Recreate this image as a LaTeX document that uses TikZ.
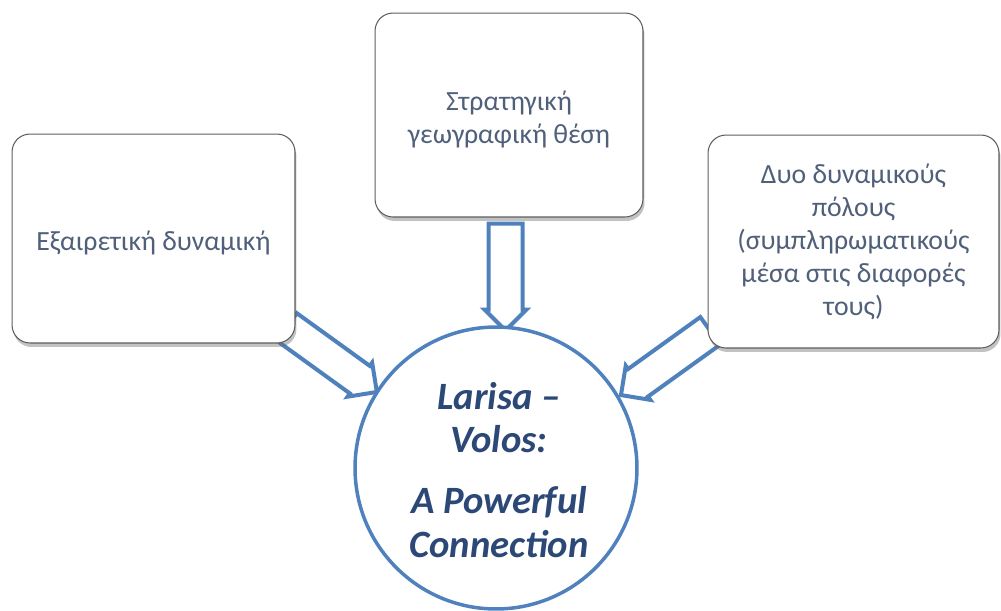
\documentclass[tikz,border=0pt]{standalone}
\usepackage{fontspec}
\setmainfont{Carlito}
\usetikzlibrary{shapes.arrows, shadows, backgrounds}
\definecolor{arrowblue}{RGB}{79,129,189}
\definecolor{hubnavy}{RGB}{44,72,118}
\definecolor{boxtext}{RGB}{80,96,122}
\definecolor{boxedge}{RGB}{95,95,95}

\begin{document}
\begin{tikzpicture}[x=0.02cm, y=-0.02cm,
  factorbox/.style={draw=boxedge, line width=0.6pt, fill=white, rounded corners=0.36cm,
    inner sep=0pt, align=center, text=boxtext, font=\fontsize{15.8}{18.8}\selectfont,
    drop shadow={shadow xshift=0.03cm, shadow yshift=-0.08cm, opacity=0.4, fill=black!60}},
  blockarrow/.style={single arrow, draw=arrowblue, line width=0.08cm, fill=white,
    inner xsep=0pt, inner ysep=0.3cm, minimum width=0pt,
    single arrow head extend=0.08cm, single arrow tip angle=90,
    sloped, allow upside down}
]
  \useasboundingbox (0,0) rectangle (1001,610);
  % Three factors
  \node[factorbox, minimum width=5.66cm, minimum height=4.18cm] (leftbox) at (153.5,238.5)
    {\\[-0.1cm]Εξαιρετική δυναμική};
  \node[factorbox, minimum width=5.36cm, minimum height=4.08cm] (midbox) at (509,115)
    {\\[-0.1cm]Στρατηγική\\ γεωγραφική θέση};
  \node[factorbox, minimum width=5.82cm, minimum height=4.26cm] (rightbox) at (853.5,241.5)
    {Δυο δυναμικούς\\ πόλους\\ (συμπληρωματικούς\\ μέσα στις διαφορές\\ τους)};
  % Centre
  \node[circle, draw=arrowblue, line width=0.07cm, fill=white, minimum size=5.64cm,
    inner sep=0pt] (hub) at (496,468) {};
  \node[text=hubnavy, font=\fontsize{22}{25}\selectfont\bfseries\itshape, align=center]
    (hubtext) at (499,470) {Larisa –\\ Volos:\\[0.34cm] A Powerful\\ Connection};
  % Block arrows behind the boxes
  \coordinate (lefttail) at (280,322);
  \coordinate (lefttip) at (370,387);
  \coordinate (midtail) at (505.5,215);
  \coordinate (midtip) at (505.5,322);
  \coordinate (righttail) at (717,326);
  \coordinate (righttip) at (628,390);
  \begin{scope}[on background layer]
    \path (lefttail) -- (lefttip) node[blockarrow, midway, minimum height=2.22cm] (leftarrow) {};
    \path (midtail) -- (midtip) node[blockarrow, midway, minimum height=2.14cm] (midarrow) {};
    \path (righttail) -- (righttip) node[blockarrow, midway, minimum height=2.2cm] (rightarrow) {};
  \end{scope}
\end{tikzpicture}
\end{document}
